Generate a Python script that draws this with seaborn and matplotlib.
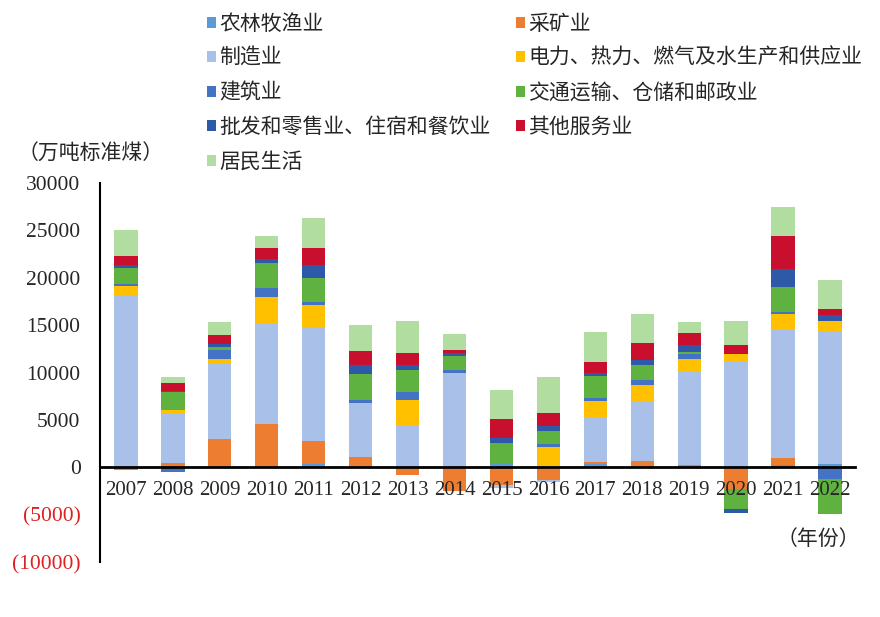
import matplotlib
matplotlib.use("Agg")
import matplotlib.pyplot as plt
from matplotlib.patches import Patch
import numpy as np
import seaborn as sns

years = [str(y) for y in range(2007, 2023)]

sectors = ["农林牧渔业", "采矿业", "制造业", "电力、热力、燃气及水生产和供应业",
           "建筑业", "交通运输、仓储和邮政业", "批发和零售业、住宿和餐饮业",
           "其他服务业", "居民生活"]
colors = ["#5B9BD5", "#ED7D31", "#A9C1E8", "#FFC000", "#4472C4",
          "#5FB140", "#2E59A8", "#C8102E", "#B2DDA0"]

# 万吨标准煤, 2007-2022
agriculture = [0, 0, 0, 0, 350, 0, 0, 0, 350, 0, 350, 0, 0, 0, 280, 300]
mining = [-300, 420, 2930, 4580, 2470, 1060, -850, -2500, -1900, -1300, 180, 700, 250, -2290, 670, 0]
manufacturing = [18200, 5250, 8110, 10680, 11840, 5670, 4510, 9900, -300, -300, 4790, 6270, 9870, 11210, 13610, 14050]
power = [880, 390, 420, 2710, 2430, 0, 2640, 0, 0, 2110, 1660, 1660, 1270, 780, 1660, 1090]
construction = [300, -450, 920, 990, 350, 320, 780, 320, 0, 390, 350, 560, 600, 0, 180, -1200]
transport = [1620, 1830, 350, 2570, 2570, 2820, 2290, 1520, 2220, 1300, 2290, 1550, 180, -2110, 2640, -3700]
trade = [300, 140, 320, 490, 1300, 920, 530, 280, 530, 600, 350, 560, 780, -460, 1870, 600]
other = [990, 850, 920, 1090, 1870, 1480, 1340, 350, 1940, 1340, 1130, 1830, 1270, 880, 3490, 630]
residential = [2710, 670, 1410, 1300, 3170, 2710, 3350, 1660, 3070, 3810, 3210, 3000, 1060, 2570, 3030, 3140]

series = [agriculture, mining, manufacturing, power, construction,
          transport, trade, other, residential]

sns.set_style("white")
plt.rcParams['font.family'] = ['Liberation Serif', 'Noto Sans CJK SC']

fig = plt.figure(figsize=(8.8, 6.17), dpi=100)
ax = fig.add_axes([100 / 880, 1 - 562 / 617, 755 / 880, 379 / 617])

vals = np.array(series, dtype=float)
pos = np.clip(vals, 0, None).cumsum(axis=0)
neg = np.clip(vals, None, 0).cumsum(axis=0)

# draw the cumulative stacks from the top layer down so lower layers overlay
for k in range(len(sectors) - 1, -1, -1):
    for stack in (pos, neg):
        sns.barplot(x=years, y=stack[k], color=colors[k], width=0.5,
                    saturation=1, linewidth=0, errorbar=None, ax=ax)

ax.set_axisbelow(False)
ax.set_xlim(-0.55, 15.53)
ax.set_ylim(-10000, 30000)
ax.set_xlabel("")
ax.set_ylabel("")

for s in ("top", "right"):
    ax.spines[s].set_visible(False)
ax.spines["bottom"].set_position(("data", 0))
ax.spines["bottom"].set_linewidth(2)
ax.spines["left"].set_linewidth(1.5)
ax.spines["bottom"].set_color("black")
ax.spines["left"].set_color("black")

ax.set_xticks(range(len(years)))
ax.set_xticklabels(years)
ax.set_xticks(np.arange(-0.5, len(years), 1), minor=True)
ax.tick_params(axis="x", which="major", length=0, pad=10, labelsize=15)
ax.tick_params(axis="x", which="minor", direction="in", length=6, width=1.5, color="black")

yt = list(range(-10000, 30001, 5000))
ax.set_yticks(yt)
ax.set_yticklabels([f"({-v})" if v < 0 else str(v) for v in yt])
ax.tick_params(axis="y", direction="in", length=5, width=1.5, pad=14, labelsize=15.5)
for lab, v in zip(ax.get_yticklabels(), yt):
    if v < 0:
        lab.set_color("#E02020")

fig.text(18 / 880, 1 - 155 / 617, "（万吨标准煤）", fontsize=15, va="center")
fig.text(860 / 880, 1 - 540 / 617, "（年份）", fontsize=15, va="center", ha="right")

order = [0, 2, 4, 6, 8, 1, 3, 5, 7]
handles = [Patch(facecolor=colors[i], edgecolor="none") for i in order]
labels = [sectors[i] for i in order]
fig.legend(handles, labels, ncol=2, loc="upper left",
           bbox_to_anchor=(188 / 880, 1 + 4 / 617), frameon=False, fontsize=15,
           handlelength=0.45, handleheight=0.45, handletextpad=0.15,
           labelspacing=0.7, columnspacing=1.2)

fig.savefig("out.png", dpi=100)
